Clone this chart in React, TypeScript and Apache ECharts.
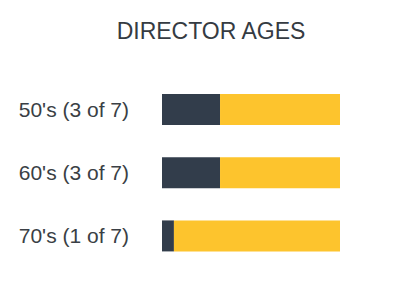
import React, { useEffect, useRef } from "react";
import * as echarts from "echarts";

const titleText = "DIRECTOR AGES";
const categories = ["50's (3 of 7)", "60's (3 of 7)", "70's (1 of 7)"];
const darkValues = [32.6, 32.6, 6.7];
const restValues = [67.4, 67.4, 93.3];

export default function App() {
  const ref = useRef<HTMLDivElement>(null);
  useEffect(() => {
    if (!ref.current) return;
    const chart = echarts.init(ref.current, undefined, { renderer: "svg" });
    chart.setOption({
      animation: false,
      title: {
        text: titleText,
        left: 206,
        textAlign: "center",
        top: 14,
        textStyle: {
          fontFamily: "Liberation Sans, Arial, sans-serif",
          fontSize: 23,
          fontWeight: "normal",
          color: "#353b42",
        },
      },
      grid: { left: 162, right: 62, top: 78, bottom: 20.5, containLabel: false },
      xAxis: {
        type: "value",
        min: 0,
        max: 100,
        show: false,
      },
      yAxis: {
        type: "category",
        data: categories,
        inverse: true,
        axisLine: { show: false },
        axisTick: { show: false },
        axisLabel: {
          margin: 33,
          fontFamily: "Liberation Sans, Arial, sans-serif",
          fontSize: 21,
          color: "#3a3f45",
        },
      },
      series: [
        {
          type: "bar",
          stack: "a",
          data: darkValues,
          barWidth: 31,
          itemStyle: { color: "#323d4b" },
        },
        {
          type: "bar",
          stack: "a",
          data: restValues,
          barWidth: 31,
          itemStyle: { color: "#fdc42d" },
        },
      ],
    });
    return () => chart.dispose();
  }, []);
  return <div ref={ref} style={{ width: 402, height: 288, margin: -8 }} />;
}
